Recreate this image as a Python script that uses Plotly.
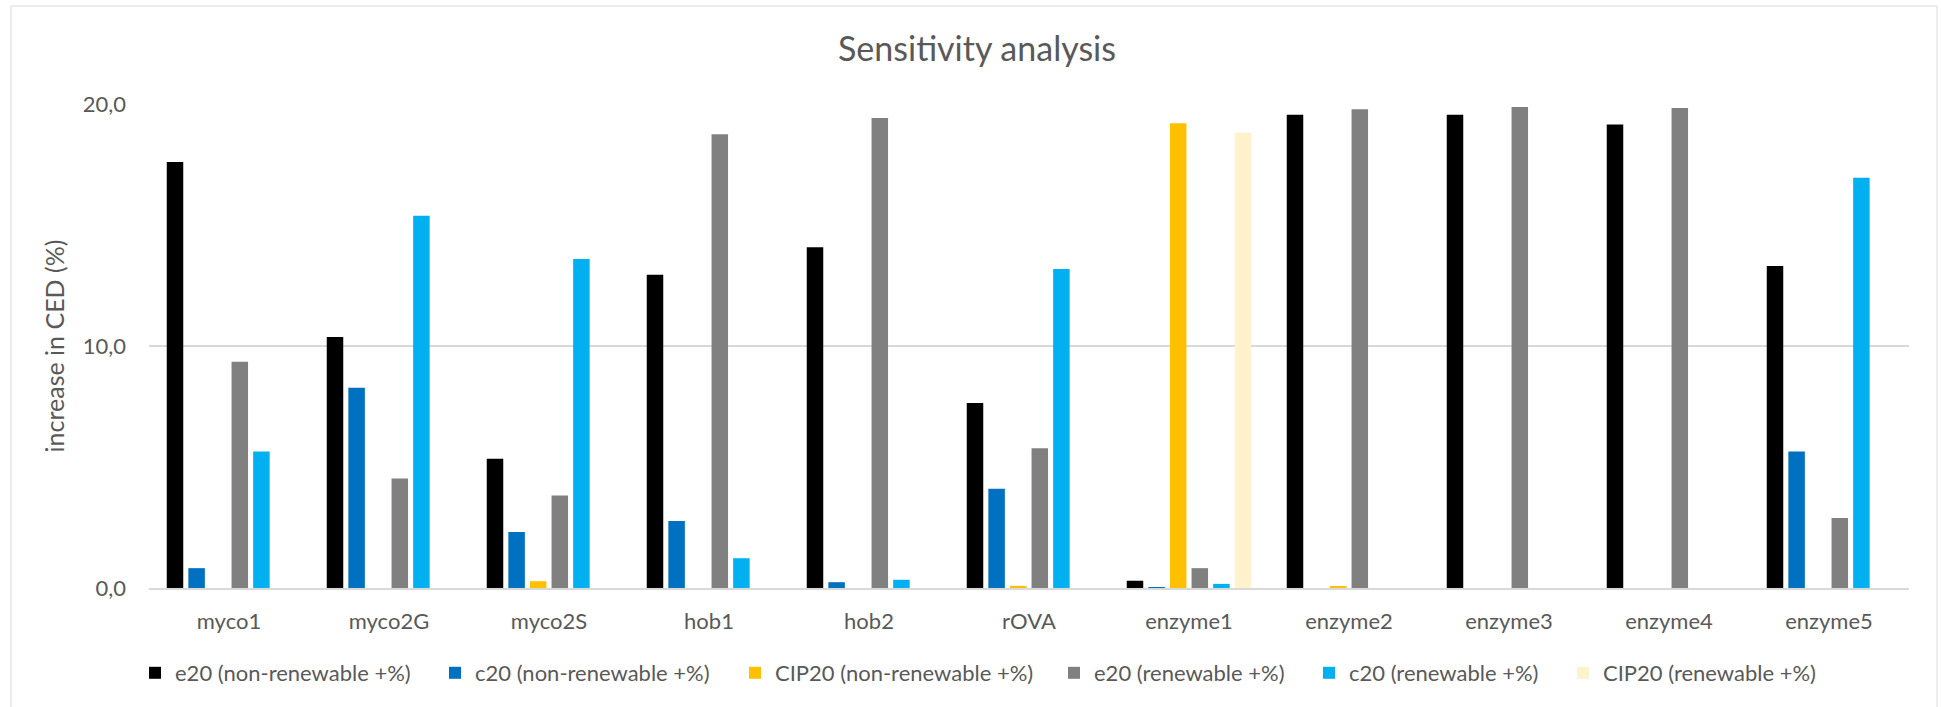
import plotly.graph_objects as go

categories = ["myco1", "myco2G", "myco2S", "hob1", "hob2", "rOVA",
              "enzyme1", "enzyme2", "enzyme3", "enzyme4", "enzyme5"]

e20_nonren = [17.60, 10.37, 5.34, 12.94, 14.08, 7.64, 0.30, 19.56, 19.56, 19.15, 13.31]
c20_nonren = [0.82, 8.27, 2.31, 2.77, 0.24, 4.10, 0.03, 0.00, 0.00, 0.00, 5.64]
cip20_nonren = [0.00, 0.00, 0.28, 0.00, 0.00, 0.09, 19.20, 0.05, 0.00, 0.00, 0.00]
e20_ren = [9.35, 4.52, 3.82, 18.75, 19.42, 5.77, 0.82, 19.78, 19.88, 19.83, 2.89]
c20_ren = [5.64, 15.38, 13.60, 1.23, 0.34, 13.18, 0.17, 0.00, 0.00, 0.00, 16.95]
cip20_ren = [0.00, 0.00, 0.00, 0.00, 0.00, 0.00, 18.82, 0.00, 0.00, 0.00, 0.00]

series_names = ["e20 (non-renewable +%)", "c20 (non-renewable +%)", "CIP20 (non-renewable +%)",
                "e20 (renewable +%)", "c20 (renewable +%)", "CIP20 (renewable +%)"]
series_values = [e20_nonren, c20_nonren, cip20_nonren, e20_ren, c20_ren, cip20_ren]
series_colors = ["#000000", "#0070C0", "#FFC000", "#808080", "#00B0F0", "#FFF2CC"]

W, H = 1941, 707
ML, MR, MT, MB = 149, 32, 104, 119
PW = W - ML - MR
PH = H - MT - MB

FONT = "Lato"
TXT = "#595959"
GRID = "#D9D9D9"
LBL = 22

def px_x(px):
    return (px - ML) / PW

def px_y(py):
    return (H - MB - py) / PH

legend_px = [149, 449, 749, 1068, 1323, 1577]

fig = go.Figure()
for i, (name, vals, col) in enumerate(zip(series_names, series_values, series_colors)):
    lg = "legend" if i == 0 else f"legend{i+1}"
    fig.add_trace(go.Bar(
        x=categories, y=vals, name=name,
        marker=dict(color=col, line=dict(width=0)),
        legend=lg, hoverinfo="x+y+name",
    ))

layout_legends = {}
for i, lx in enumerate(legend_px):
    key = "legend" if i == 0 else f"legend{i+1}"
    layout_legends[key] = dict(
        x=px_x(lx - 14), xanchor="left",
        y=px_y(673), yanchor="middle",
        orientation="h",
        font=dict(family=FONT, size=LBL, color=TXT),
        bgcolor="rgba(0,0,0,0)",
        borderwidth=0,
    )

fig.update_layout(
    width=W, height=H,
    margin=dict(l=ML, r=MR, t=MT, b=MB, pad=0),
    paper_bgcolor="white", plot_bgcolor="white",
    separators=",.",
    barmode="group",
    bargap=0.19,
    bargroupgap=0.236,
    font=dict(family=FONT, color=TXT),
    title=dict(text="Sensitivity analysis", xref="container", x=977 / W,
               y=1 - 49 / H, xanchor="center", yanchor="middle",
               font=dict(family=FONT, size=34, color=TXT)),
    showlegend=True,
    **layout_legends,
)

fig.update_yaxes(
    range=[0, 20], dtick=10, tick0=0, tickformat=".1f",
    showgrid=True, gridcolor=GRID, gridwidth=1.5,
    zeroline=False, showline=False, ticks="",
    ticklabelstandoff=22,
    tickfont=dict(family=FONT, size=LBL, color=TXT),
    title=dict(text="increase in CED (%)", standoff=10,
               font=dict(family=FONT, size=25, color=TXT)),
)
fig.update_xaxes(
    type="category", showgrid=False, zeroline=False,
    showline=True, linecolor=GRID, linewidth=1.5, ticks="",
    ticklabelstandoff=13,
    tickfont=dict(family=FONT, size=LBL, color=TXT),
)

fig.add_shape(type="rect", xref="paper", yref="paper",
              x0=px_x(11), x1=px_x(1937), y0=px_y(712), y1=px_y(6),
              line=dict(color=GRID, width=1), fillcolor="rgba(0,0,0,0)", layer="below")

fig.write_html("out.html")
